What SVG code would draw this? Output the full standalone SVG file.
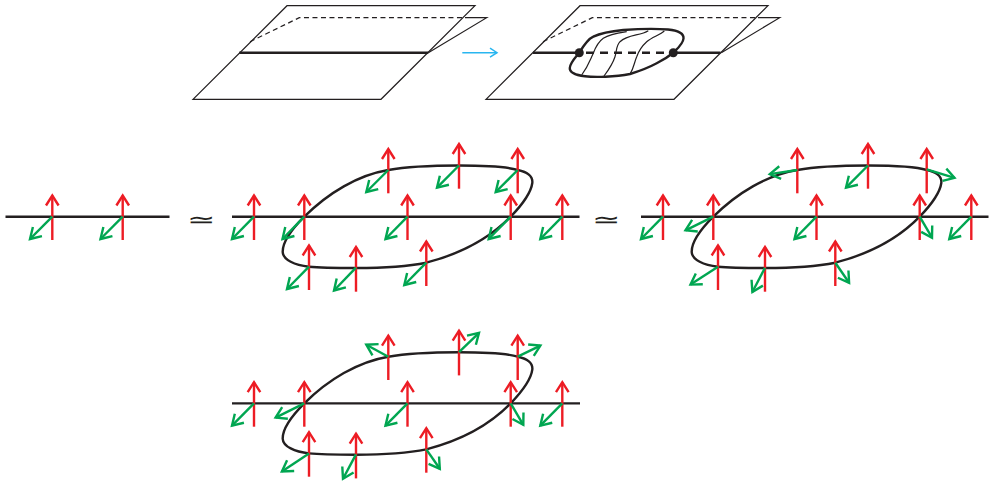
<svg xmlns="http://www.w3.org/2000/svg" width="996" height="483" viewBox="0 0 996 483">
<style>
.bg{fill:#fff}
.thin{fill:none;stroke:#231F20;stroke-width:1.200;stroke-linejoin:miter}
.dash{fill:none;stroke:#231F20;stroke-width:1.200;stroke-dasharray:5 3.500}
.thick{fill:none;stroke:#231F20;stroke-width:2.400}
.r{stroke:#ED1C24;stroke-width:2.400;fill:none;marker-end:url(#mr)}
.g{stroke:#00A651;stroke-width:2.400;fill:none;marker-end:url(#mg)}
.sim{font-family:"DejaVu Sans",sans-serif;font-size:34px;fill:#231F20;text-anchor:middle}
</style>
<defs>
<marker id="mr" markerUnits="userSpaceOnUse" markerWidth="20" markerHeight="20" refX="12" refY="10" orient="auto" overflow="visible"><path d="M2 3.700L12 10L2 16.300" fill="none" stroke="#ED1C24" stroke-width="2.400"/></marker>
<marker id="mg" markerUnits="userSpaceOnUse" markerWidth="20" markerHeight="20" refX="11.500" refY="10" orient="auto" overflow="visible"><path d="M1 3.600L11.500 10L1 16.400" fill="none" stroke="#00A651" stroke-width="2.400"/></marker>
<marker id="mc" markerUnits="userSpaceOnUse" markerWidth="14" markerHeight="14" refX="9" refY="7" orient="auto" overflow="visible"><path d="M2 2.500L9 7L2 11.500" fill="none" stroke="#29B6F0" stroke-width="1.500"/></marker>
<path id="loop" d="M304.300 216.700C328 193 358 175 388.300 170C410 166 435 165.500 459 165.500C480 165.500 505 166 517.700 170C528 172 533 177 532.300 183C531 193 520 207 510.700 216.700C490 238 460 254 426.300 262.700C405 267 380 268 356 268C340 268 322 268 309 266.700C295 265 283 260 282.700 252C282.500 242 292 229 304.300 216.700Z"/>
<g id="sheet">
<path d="M193 99.300H381L475 5.700H287Z"/>
<path d="M428.300 52.700L486.700 17.700H465"/>
</g>
</defs>
<rect class="bg" width="996" height="483"/>

<g id="sheet-before">
<use href="#sheet" class="thin"/>
<path class="dash" d="M250 41.700L299.300 17.700H465"/>
<path class="thick" d="M239.300 52.700H428.300"/>
</g>

<g id="connectors">
<path d="M462.300 52.700H497" fill="none" stroke="#29B6F0" stroke-width="1.500" marker-end="url(#mc)"/>
</g>

<g id="sheet-after">
<use href="#sheet" x="293" class="thin"/>
<path class="dash" d="M543 41.700L592.300 17.700H758"/>
<path class="thick" d="M533 52.700H579.300M673.300 52.700H720.500"/>
<path class="thick" stroke-dasharray="8 6" d="M586 52.700H667"/>
<path class="thin" d="M581.700 75C589 65 590 60 593.300 53.300C596 46 598 42 603.300 38.300C610 34 618 33 626.700 31.700"/>
<path class="thin" d="M604 76C610 68 613 63 615 56.700C617 50 616 46 620 41.700C628 34 640 36 648.300 30.700"/>
<path class="thin" d="M630 74C634 68 634 63 636.700 56.700C639 50 642 46 646.700 41.700C652 37 660 35 664.300 31"/>
<path class="thick" d="M579.300 52.700C584 45 588 39 593.300 36.700C603 32 613 31 623.300 30C640 28.800 655 28.500 668 29.500C678 30.500 684 33 683.500 38.500C683 44 678 48 673.300 52.700C668 57 663 60 656.700 63.300C648 68 640 71 630 74C615 77 595 77.500 585 76.300C575 75 569.500 72 569.800 68C570 63 575 58 579.300 52.700Z"/>
<circle cx="579.300" cy="52.700" r="4.500" fill="#231F20"/>
<circle cx="673.300" cy="52.700" r="4.500" fill="#231F20"/>
</g>

<g id="row-plain">
<path class="thick" d="M5.500 216.700H169.500"/>
<path class="r" d="M52.300 240V195.500"/><path class="r" d="M122.700 240V195.500"/>
<path class="g" d="M52.300 216.700L30 239"/><path class="g" d="M122.700 216.700L100.500 239"/>
</g>

<text id="simeq-1" class="sim" transform="translate(201.500 226.500) scale(1 .62)">≃</text>
<text id="simeq-2" class="sim" transform="translate(606.500 226.500) scale(1 .62)">≃</text>

<g id="row-loop">
<use href="#loop" class="thick"/>
<path class="thick" d="M232 216.700H579.500"/>
<path class="r" d="M254 240V195.500"/><path class="r" d="M304.300 240V195.500"/><path class="r" d="M407.500 240V195.500"/><path class="r" d="M510.700 240V195.500"/><path class="r" d="M562.300 240V195.500"/>
<path class="r" d="M388.300 193.300V149"/><path class="r" d="M459 188.700V144"/><path class="r" d="M517.700 193.300V149"/>
<path class="r" d="M309 290V245.500"/><path class="r" d="M356 291.700V247"/><path class="r" d="M426.300 286V241.500"/>
<path class="g" d="M254 216.700L232 239"/><path class="g" d="M304.300 216.700L282.500 239"/><path class="g" d="M407.500 216.700L385.500 239"/><path class="g" d="M510.700 216.700L488.700 239"/><path class="g" d="M562.300 216.700L540.300 239"/>
<path class="g" d="M388.300 170L366.300 192"/><path class="g" d="M459 165.500L437 187.700"/><path class="g" d="M517.700 170L495.700 192"/>
<path class="g" d="M309 266.700L287 289"/><path class="g" d="M356 267.700L334 290.500"/><path class="g" d="M426.300 262.700L404.300 285"/>
</g>

<g id="row-loop-turning">
<use href="#loop" x="409" class="thick"/>
<path class="thick" d="M641 216.700H988.500"/>
<path class="r" d="M663 240V195.500"/><path class="r" d="M713.300 240V195.500"/><path class="r" d="M816.500 240V195.500"/><path class="r" d="M919.700 240V195.500"/><path class="r" d="M971.300 240V195.500"/>
<path class="r" d="M797.300 193.300V149"/><path class="r" d="M868 188.700V144"/><path class="r" d="M926.700 193.300V149"/>
<path class="r" d="M718 290V245.500"/><path class="r" d="M765 291.700V247"/><path class="r" d="M835.300 286V241.500"/>
<path class="g" d="M663 216.700L641 239"/><path class="g" d="M713.300 216.700L685.500 230.300"/><path class="g" d="M816.500 216.700L794.500 239"/><path class="g" d="M919.700 216.700L932 237.700"/><path class="g" d="M971.300 216.700L949.300 239"/>
<path class="g" d="M797.300 170L769.800 174.100"/><path class="g" d="M868 165.500L846 187.700"/><path class="g" d="M926.700 169.300L954.500 177.800"/>
<path class="g" d="M718 266.700L690.500 284.600"/><path class="g" d="M765 267.700L752.400 292"/><path class="g" d="M835.300 262.700L849.100 282.800"/>
</g>

<g id="row-loop-normal">
<use href="#loop" y="186.700" class="thick"/>
<path class="thick" d="M232 403.400H580"/>
<path class="r" d="M254 426.700V382.200"/><path class="r" d="M304.300 426.700V382.200"/><path class="r" d="M407.500 426.700V382.200"/><path class="r" d="M510.700 426.700V382.200"/><path class="r" d="M562.300 426.700V382.200"/>
<path class="r" d="M388.300 380V335.700"/><path class="r" d="M459 375.400V330.700"/><path class="r" d="M517.700 380V335.700"/>
<path class="r" d="M309 476.700V432.200"/><path class="r" d="M356 478.400V433.700"/><path class="r" d="M426.300 472.700V428.200"/>
<path class="g" d="M254 403.400L232 425.700"/><path class="g" d="M304.300 403.400L275.600 417.600"/><path class="g" d="M407.500 403.400L385.500 425.700"/><path class="g" d="M510.700 403.400L523.300 424.800"/><path class="g" d="M562.300 403.400L540.300 425.700"/>
<path class="g" d="M388.300 356.700L366.300 344.700"/><path class="g" d="M459 352.200L479 332.900"/><path class="g" d="M517.700 356.700L540.400 345.600"/>
<path class="g" d="M309 453.400L281.900 471.500"/><path class="g" d="M356 454.400L343 478.800"/><path class="g" d="M426.300 449.400L439.800 468.800"/>
</g>
</svg>
